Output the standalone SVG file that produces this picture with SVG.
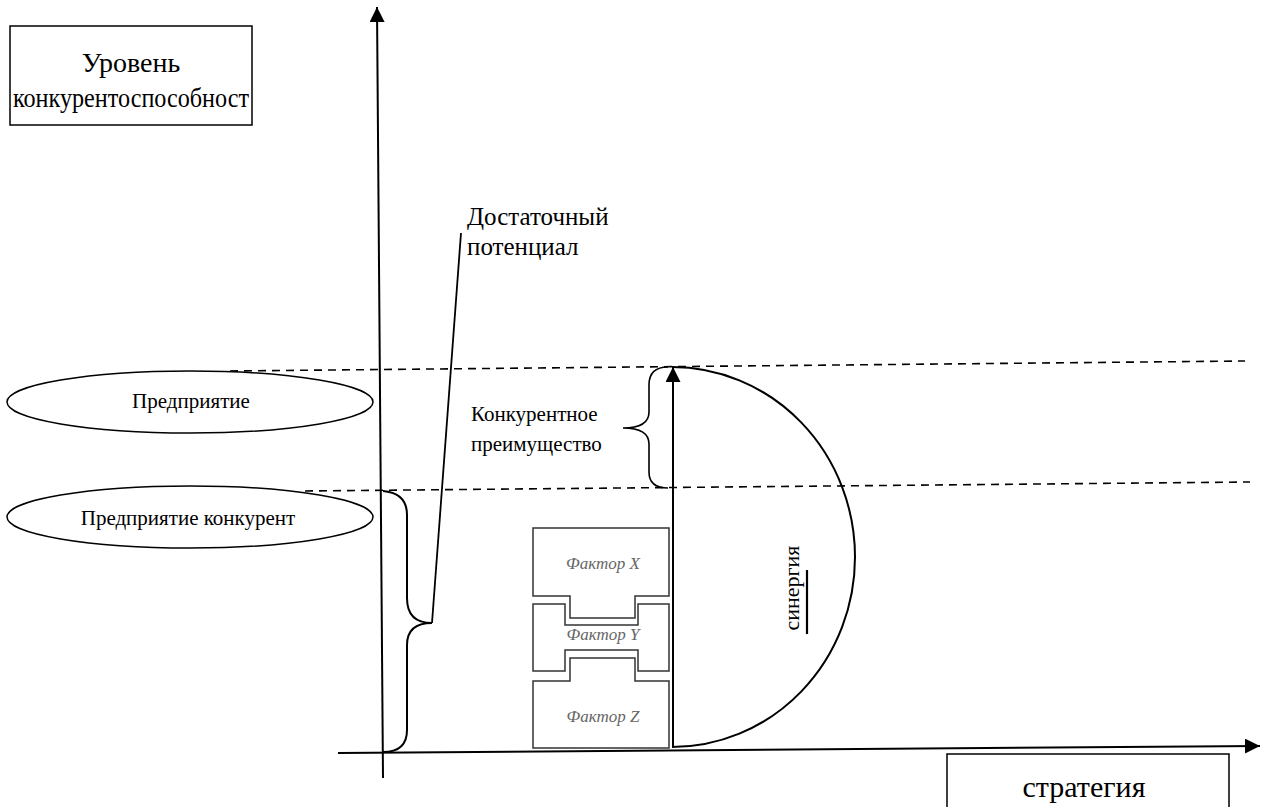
<svg xmlns="http://www.w3.org/2000/svg" width="1261" height="807" viewBox="0 0 1261 807">
<style>
.ln{fill:none;stroke:#000;stroke-width:2}
.dash{fill:none;stroke:#000;stroke-width:1.6;stroke-dasharray:8 6}
.box{fill:#fff;stroke:#000;stroke-width:1.5}
text{font-family:"Liberation Serif","DejaVu Serif","Times New Roman",serif}
.t{fill:#000}
.blk{fill:#fff;stroke:#333;stroke-width:1.5}
.ft{font-style:italic;font-size:17px;fill:#666;text-anchor:middle}
</style>
<defs>
<marker id="ah2" viewBox="0 0 10 10" refX="10" refY="5" markerWidth="15" markerHeight="15" markerUnits="userSpaceOnUse" orient="auto">
<path d="M0,0 L10,5 L0,10 z" fill="#000"/>
</marker>
</defs>
<rect width="1261" height="807" fill="#fff"/>
<g id="connectors">
<line class="dash" x1="230" y1="371" x2="1245" y2="361"/>
<line class="dash" x1="305" y1="491" x2="1250" y2="482"/>
<line class="ln" x1="383" y1="778" x2="377" y2="7" marker-end="url(#ah2)"/>
<line class="ln" x1="338" y1="753" x2="1260" y2="746" marker-end="url(#ah2)"/>
<path class="ln" d="M383,491 Q407,493 407,515 L407,598 Q407,623 432,623 Q407,623 407,645 L407,730 Q407,752 383,752"/>
<line class="ln" x1="432" y1="623" x2="461" y2="233" style="stroke-width:1.8"/>
<path class="ln" d="M668,367 Q649,367 649,385 L649,412 Q649,428 623,428 Q649,428 649,444 L649,472 Q649,488 668,488" style="stroke-width:1.6"/>
<path class="ln" d="M672,367 A183,190 0 0 1 672,747"/>
<line x1="807" y1="570" x2="807" y2="634" stroke="#000" stroke-width="2.2"/>
</g>
<g id="axis-label-y">
<rect class="box" x="10" y="26" width="242" height="99"/>
<text class="t" x="131" y="72" font-size="28" text-anchor="middle">Уровень</text>
<text class="t" x="13" y="107" font-size="28" textLength="236" lengthAdjust="spacingAndGlyphs">конкурентоспособност</text>
</g>
<g id="axis-label-x">
<rect class="box" x="947" y="754" width="282" height="60"/>
<text class="t" x="1084" y="797" font-size="30" text-anchor="middle">стратегия</text>
</g>
<g id="node-enterprise">
<ellipse cx="190" cy="402" rx="183" ry="31" fill="#fff" stroke="#000" stroke-width="1.5"/>
<text class="t" x="191" y="408" font-size="21" text-anchor="middle">Предприятие</text>
</g>
<g id="node-competitor">
<ellipse cx="190" cy="517" rx="183" ry="31" fill="#fff" stroke="#000" stroke-width="1.5"/>
<text class="t" x="188" y="525" font-size="21" text-anchor="middle">Предприятие конкурент</text>
</g>
<g id="label-potential">
<text class="t" x="467" y="225" font-size="25">Достаточный</text>
<text class="t" x="467" y="255" font-size="25">потенциал</text>
</g>
<g id="label-advantage">
<text class="t" x="471" y="421" font-size="21">Конкурентное</text>
<text class="t" x="471" y="451" font-size="21">преимущество</text>
</g>
<g id="label-synergy">
<text class="t" x="799" y="588" font-size="22" text-anchor="middle" transform="rotate(-90 799 588)">синергия</text>
</g>
<g id="factor-x">
<path class="blk" d="M533,528 L669,528 L669,596 L635,596 L635,618 L570,618 L570,596 L533,596 Z"/>
<text class="ft" x="603" y="569">Фактор X</text>
</g>
<g id="factor-y">
<path class="blk" d="M533,604 L565,604 L565,625 L638,625 L638,604 L669,604 L669,671 L638,671 L638,650 L565,650 L565,671 L533,671 Z"/>
<text class="ft" x="603" y="640">Фактор Y</text>
</g>
<g id="factor-z">
<path class="blk" d="M533,681 L570,681 L570,658 L635,658 L635,681 L669,681 L669,748 L533,748 Z"/>
<text class="ft" x="603" y="722">Фактор Z</text>
</g>
<g id="vertical-arrow">
<line class="ln" x1="673" y1="747" x2="673" y2="367" marker-end="url(#ah2)"/>
</g>
</svg>
